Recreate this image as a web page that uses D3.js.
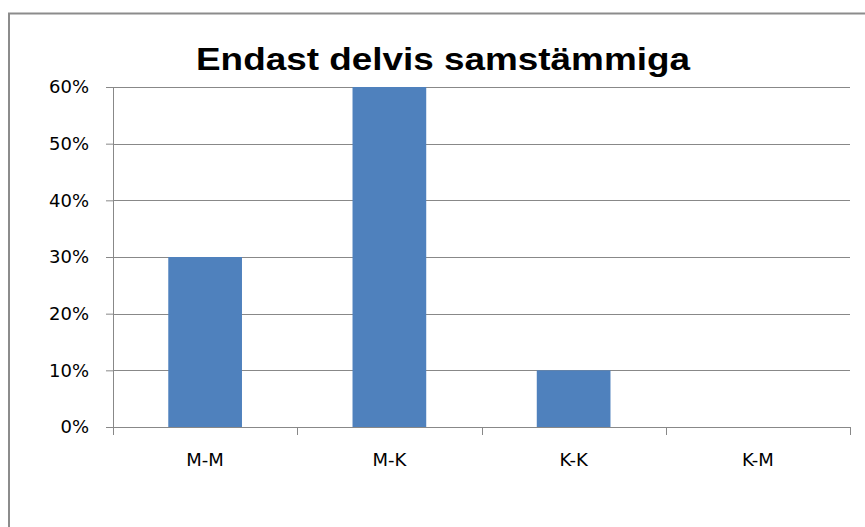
<!DOCTYPE html>
<html>
	<head>
		<title>Endast delvis samstämmiga</title>
		<meta charset="UTF-8">
		<style type="text/css">
			body { margin: 0; background: #fff; }
			svg { display: block; }
			.axis text { font-family: "DejaVu Sans", sans-serif; font-size: 18px; fill: #000; }
		</style>
		<script src="https://d3js.org/d3.v7.min.js"></script>
	</head>

	<body>
		<script type="text/javascript">

			// data
			var categories = ["M-M", "M-K", "K-K", "K-M"];
			var values = [0.30, 0.60, 0.10, 0.00];
			var yTicks = [0, 0.1, 0.2, 0.3, 0.4, 0.5, 0.6];
			var title = "Endast delvis samstämmiga";

			var W = 865, H = 527;
			var margin = {top: 87, right: 15, bottom: 100, left: 113},
				width = 850 - margin.left,
				height = 427 - margin.top;

			var svg = d3.select("body")
				.append("svg")
					.attr("width", W)
					.attr("height", H);

			// outer frame (runs off the right and bottom)
			svg.append("rect")
				.attr("x", 9).attr("y", 13.5)
				.attr("width", 900).attr("height", 600)
				.attr("fill", "none")
				.attr("stroke", "#8c8c8c")
				.attr("stroke-width", 2);

			svg.append("text")
				.attr("x", 443).attr("y", 70)
				.attr("text-anchor", "middle")
				.attr("font-family", "'Liberation Sans', Arial, sans-serif")
				.attr("font-weight", "bold")
				.attr("font-size", 31)
				.attr("textLength", 494)
				.attr("lengthAdjust", "spacingAndGlyphs")
				.text(title);

			var g = svg.append("g")
				.attr("transform", "translate(" + margin.left + "," + margin.top + ")");

			var x = d3.scaleBand().domain(categories).range([0, width]).paddingInner(0.6).paddingOuter(0.3);
			var y = d3.scaleLinear().domain([0, 0.6]).range([height, 0]);

			// gridlines
			g.append("g")
				.selectAll("line")
				.data(yTicks)
				.enter().append("line")
					.attr("x1", 0).attr("x2", width)
					.attr("y1", function(d) { return Math.round(y(d)) + 0.5; })
					.attr("y2", function(d) { return Math.round(y(d)) + 0.5; })
					.attr("stroke", "#888")
					.attr("stroke-width", 1);

			// bars
			g.append("g")
				.selectAll("rect")
				.data(values)
				.enter().append("rect")
					.attr("x", function(d, i) { return x(categories[i]); })
					.attr("width", x.bandwidth())
					.attr("y", function(d) { return y(d); })
					.attr("height", function(d) { return height - y(d); })
					.attr("fill", "#4f81bd");

			var yAxis = d3.axisLeft(y)
				.tickValues(yTicks)
				.tickFormat(d3.format(".0%"))
				.tickSize(7)
				.tickPadding(17);

			var yg = g.append("g").attr("class", "axis").call(yAxis);
			yg.selectAll("line,path").attr("stroke", "#888");
			yg.select(".domain").attr("d", "M0.5,0V" + height);

			// category axis with ticks on band edges
			var xEdge = d3.scaleLinear().domain([0, categories.length]).range([0, width]);
			var xg = g.append("g").attr("class", "axis")
				.attr("transform", "translate(0," + height + ")");
			xg.append("line")
				.attr("x1", 0).attr("x2", width)
				.attr("y1", 0.5).attr("y2", 0.5)
				.attr("stroke", "#888");
			xg.selectAll(".edge")
				.data(d3.range(categories.length + 1))
				.enter().append("line")
					.attr("class", "edge")
					.attr("x1", function(d) { return Math.round(xEdge(d)) + 0.5; })
					.attr("x2", function(d) { return Math.round(xEdge(d)) + 0.5; })
					.attr("y1", 0).attr("y2", 8)
					.attr("stroke", "#888");
			xg.selectAll(".lab")
				.data(categories)
				.enter().append("text")
					.attr("class", "lab")
					.attr("x", function(d) { return x(d) + x.bandwidth() / 2; })
					.attr("y", 39)
					.attr("text-anchor", "middle")
					.text(function(d) { return d; });

		</script>
	</body>
</html>
